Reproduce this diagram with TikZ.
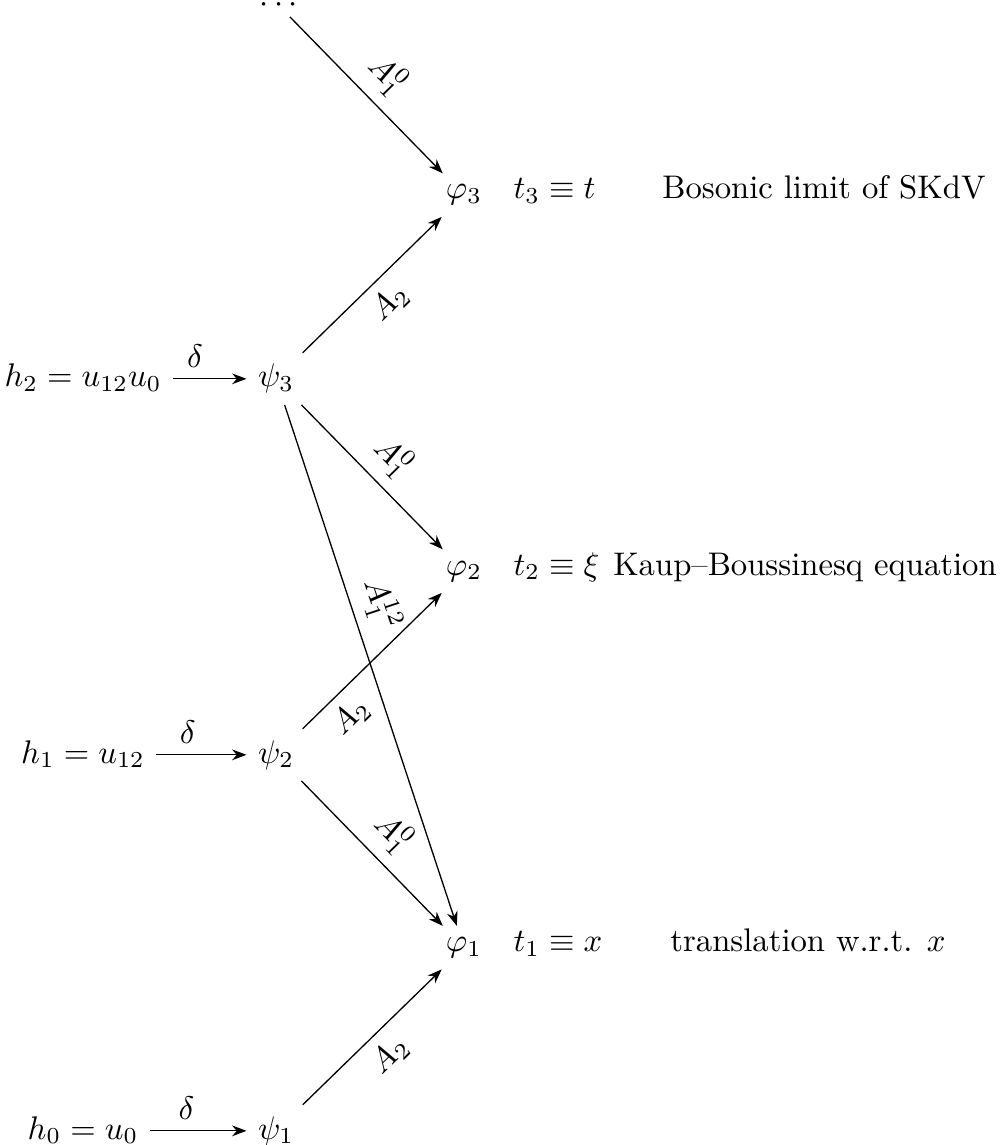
\documentclass[tikz,border=0pt]{standalone}
\usetikzlibrary{arrows.meta}
\begin{document}
\begin{tikzpicture}[x=0.3058pt,y=-0.3058pt,
  obj/.style={anchor=base,inner sep=3.33pt},
  tcol/.style={anchor=base west,inner sep=0pt},
  desc/.style={anchor=base,inner sep=0pt},
  arr/.style={-{Stealth[length=4.4pt,width=3.3pt]},line width=0.4pt},
  lbl/.style={sloped,inner sep=3.33pt}]
\useasboundingbox (0,0) rectangle (1006,1145);
% objects (baseline = axis + 8)
\node[obj,inner sep=1pt] (dots) at (279,13) {$\cdots$};
\node[obj] (p3) at (464,199) {$\varphi_3$};
\node[obj] (s3) at (276,387) {$\psi_3$};
\node[obj] (p2) at (464,575) {$\varphi_2$};
\node[obj] (s2) at (276,763) {$\psi_2$};
\node[obj] (p1) at (464,951.5) {$\varphi_1$};
\node[obj] (s1) at (276,1139) {$\psi_1$};
\node[obj] (h2) at (83,387) {$h_2 = u_{12}u_0$};
\node[obj] (h1) at (83,763) {$h_1 = u_{12}$};
\node[obj] (h0) at (83,1139) {$h_0 = u_0$};
% side texts
\node[tcol] (t3) at (513,199) {$t_3 \equiv t$};
\node[tcol] (t2) at (513,575) {$t_2 \equiv \xi$};
\node[tcol] (t1) at (513,951.5) {$t_1 \equiv x$};
\node[desc] (d3) at (824,199) {Bosonic limit of SKdV};
\node[desc] (d2) at (805,575) {Kaup--Boussinesq equation};
\node[desc] (d1) at (808,951.5) {translation w.r.t. $x$};
% horizontal arrows
\draw[arr] (h2.east |- s3.west) -- node[above,pos=0.3] (del2) {$\delta$} (s3.west);
\draw[arr] (h1.east |- s2.west) -- node[above,pos=0.35] (del1) {$\delta$} (s2.west);
\draw[arr] (h0.east |- s1.west) -- node[above,pos=0.38] (del0) {$\delta$} (s1.west);
% diagonal arrows
\draw[arr] (dots) -- node[lbl,above,pos=0.5] (a1) {$A_1^0$} (p3);
\draw[arr] (s3) -- node[lbl,below,pos=0.5] (a2) {$A_2$} (p3);
\draw[arr] (s3) -- node[lbl,above,pos=0.5] (a3) {$A_1^0$} (p2);
\draw[arr] (s3) -- node[lbl,above,pos=0.4] (a4) {$A_1^{12}$} (p1);
\draw[arr] (s2) -- node[lbl,below,pos=0.22] (a5) {$A_2$} (p2);
\draw[arr] (s2) -- node[lbl,above,pos=0.5] (a6) {$A_1^0$} (p1);
\draw[arr] (s1) -- node[lbl,below,pos=0.5] (a7) {$A_2$} (p1);
\end{tikzpicture}
\end{document}
